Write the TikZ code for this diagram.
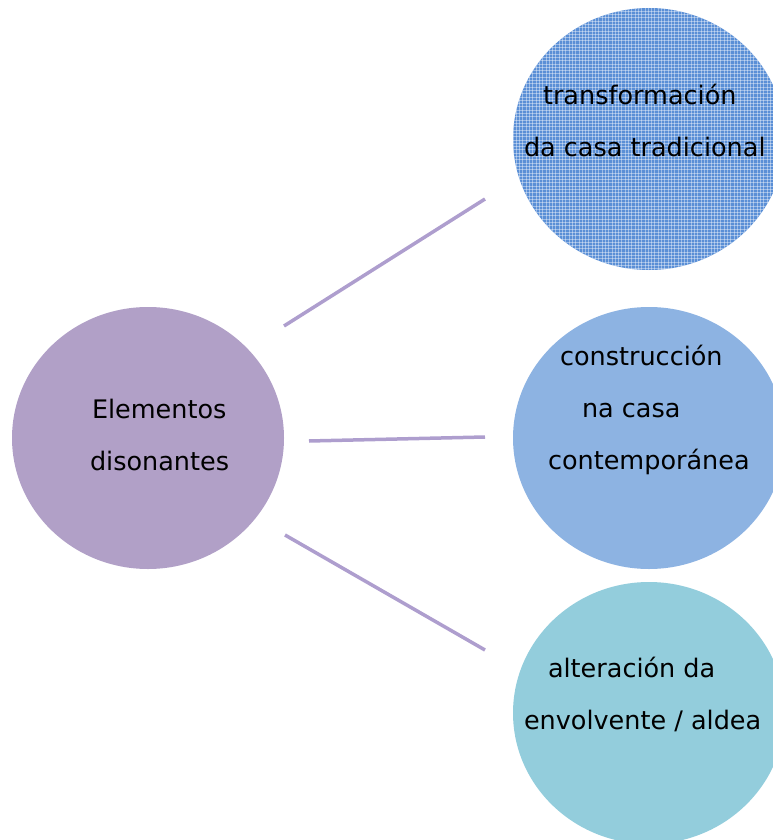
\documentclass[tikz,border=0pt]{standalone}
\usepackage{fontspec}
\setmainfont{DejaVu Sans}
\usetikzlibrary{shapes.geometric}
\definecolor{purplefill}{HTML}{B1A0C7}
\definecolor{linkcol}{HTML}{AE9ECE}
\definecolor{topblue}{HTML}{5A8FD6}
\definecolor{midblue}{HTML}{8DB3E2}
\definecolor{lowblue}{HTML}{93CDDC}
\tikzset{
  bubble/.style={ellipse, draw=none, inner sep=0pt, outer sep=0pt,
    minimum width=272pt, minimum height=262pt},
  label text/.style={anchor=base west, inner sep=0pt, outer sep=0pt,
    font=\fontsize{25.5}{30}\selectfont, text=black},
  link/.style={draw=linkcol, line width=3.5pt},
  gridded/.style={path picture={
    \foreach \k in {0,...,90}{
      \draw[white, opacity=.4, line width=1pt]
        ([xshift=\k*3.3pt]path picture bounding box.north west) --
        ([xshift=\k*3.3pt]path picture bounding box.south west);
      \draw[white, opacity=.4, line width=1pt]
        ([yshift=-\k*3.3pt]path picture bounding box.north west) --
        ([yshift=-\k*3.3pt]path picture bounding box.north east);
    }}}
}
\begin{document}
\begin{tikzpicture}[x=1pt,y=-1pt]
\useasboundingbox (0,0) rectangle (773,840);
\clip (0,0) rectangle (773,840);
\node[bubble, fill=purplefill] (elem) at (148,438) {};
\node[bubble, fill=topblue, gridded] (trans) at (649,139) {};
\node[bubble, fill=midblue] (cons) at (649,438) {};
\node[bubble, fill=lowblue] (alt) at (649,713) {};

\node[label text] (e1) at (92,418) {Elementos};
\node[label text] (e2) at (90,470) {disonantes};
\node[label text] (t1) at (543,105) {transformación};
\node[label text] (t2) at (524,157) {da casa tradicional};
\node[label text] (c1) at (560,365) {construcción};
\node[label text] (c2) at (582,417) {na casa};
\node[label text] (c3) at (548,469) {contemporánea};
\node[label text] (a1) at (548,677) {alteración da};
\node[label text] (a2) at (524,729) {envolvente / aldea};

\coordinate (l1s) at (284,326);
\coordinate (l1e) at (485,199);
\coordinate (l2s) at (309,441);
\coordinate (l2e) at (485,437);
\coordinate (l3s) at (285,535);
\coordinate (l3e) at (485,650);
\draw[link] (l1s) -- (l1e);
\draw[link] (l2s) -- (l2e);
\draw[link] (l3s) -- (l3e);
\end{tikzpicture}
\end{document}
